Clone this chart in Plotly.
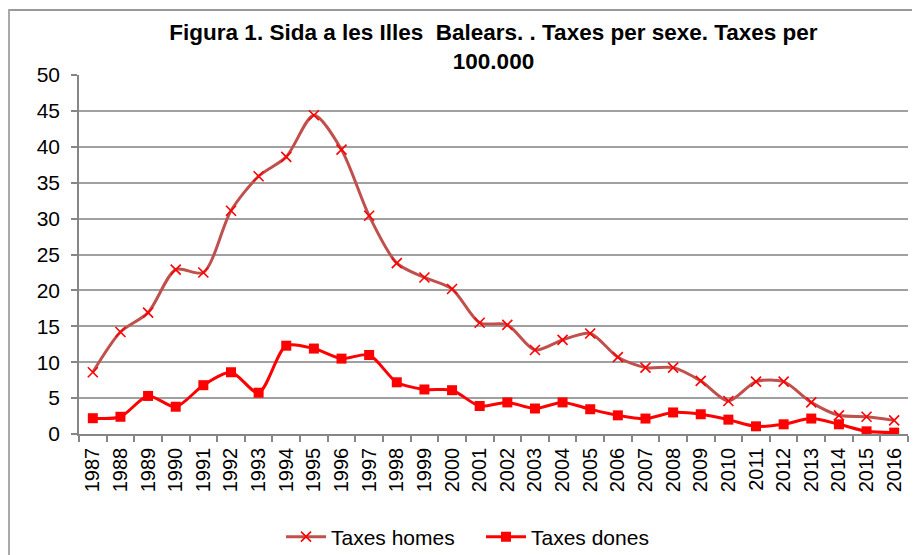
import plotly.graph_objects as go

years = [str(y) for y in range(1987, 2017)]
taxes_homes = [8.6, 14.2, 16.9, 22.9, 22.5, 31.1, 35.9, 38.6, 44.4, 39.6, 30.4, 23.8, 21.8, 20.2,
               15.5, 15.2, 11.7, 13.1, 14.0, 10.7, 9.25, 9.25, 7.4, 4.6, 7.3, 7.3, 4.4, 2.6, 2.4, 1.9]
taxes_dones = [2.2, 2.4, 5.3, 3.8, 6.8, 8.6, 5.75, 12.3, 11.9, 10.5, 11.0, 7.2, 6.2, 6.1,
               3.9, 4.4, 3.55, 4.4, 3.45, 2.6, 2.15, 3.0, 2.75, 2.0, 1.07, 1.35, 2.15, 1.35, 0.37, 0.19]
y_ticks = [0, 5, 10, 15, 20, 25, 30, 35, 40, 45, 50]

FONT = "Liberation Sans, Arial, sans-serif"

fig = go.Figure()
fig.add_trace(go.Scatter(
    x=years, y=taxes_homes, name="Taxes homes", mode="lines+markers",
    line=dict(color="#C0504D", width=3, shape="spline", smoothing=0.8),
    marker=dict(symbol="x-thin", size=10, color="#FF0000",
                line=dict(color="#FF0000", width=1.6)),
))
fig.add_trace(go.Scatter(
    x=years, y=taxes_dones, name="Taxes dones", mode="lines+markers",
    line=dict(color="#FF0000", width=3, shape="spline", smoothing=0.8),
    marker=dict(symbol="square", size=10, color="#FF0000"),
))

# page body has an 8px margin: work in figure pixels = screen pixels - 8
OFF = 8
W, H = 920 - OFF, 555 - OFF
L, R, T, B = 79 - OFF, 908 - OFF, 75 - OFF, 434 - OFF
pw, ph = R - L, B - T

def px_x(p):
    return (p - OFF - L) / pw

def px_y(p):
    return (B - (p - OFF)) / ph

# outer chart frame (only its left and top edges are visible)
fig.add_shape(type="line", xref="paper", yref="paper", layer="above",
              x0=px_x(9), x1=px_x(919), y0=px_y(10), y1=px_y(10),
              line=dict(color="#999999", width=2))
fig.add_shape(type="line", xref="paper", yref="paper", layer="above",
              x0=px_x(9), x1=px_x(9), y0=px_y(600), y1=px_y(9),
              line=dict(color="#A0A0A0", width=1.8))

fig.update_layout(
    width=W, height=H,
    margin=dict(l=L, r=W - R, t=T, b=H - B, pad=0, autoexpand=False),
    paper_bgcolor="white", plot_bgcolor="white",
    font=dict(family=FONT, color="#000000"),
    title=dict(
        text="<b>Figura 1. Sida a les Illes  Balears. . Taxes per sexe. Taxes per<br>100.000</b>",
        x=0.5, xref="paper", xanchor="center",
        y=1 - (39.5 - OFF) / H, yref="container", yanchor="middle",
        font=dict(family=FONT, size=22.5, color="#000000"),
    ),
    showlegend=True,
    legend=dict(
        orientation="h", x=px_x(481), xanchor="center",
        yref="container", y=1 - (537 - OFF) / H, yanchor="middle",
        font=dict(family=FONT, size=21, color="#000000"),
        itemwidth=40, tracegroupgap=0, entrywidth=145,
    ),
    xaxis=dict(
        type="category", tickangle=-90, tickson="boundaries", automargin=False,
        ticks="outside", ticklen=6, tickcolor="#868686", tickwidth=1.5,
        ticklabelstandoff=4,
        showline=True, linecolor="#868686", linewidth=1.5,
        showgrid=False, zeroline=False,
        tickfont=dict(family=FONT, size=20, color="#000000"),
        range=[-0.5, len(years) - 0.5],
    ),
    yaxis=dict(
        range=[0, 50], tickvals=y_ticks, automargin=False,
        ticks="outside", ticklen=6, tickcolor="#868686", tickwidth=1.5,
        ticklabelstandoff=7,
        showline=True, linecolor="#868686", linewidth=1.5,
        showgrid=True, gridcolor="#A0A0A0", gridwidth=1.5,
        zeroline=False,
        tickfont=dict(family=FONT, size=21, color="#000000"),
    ),
)

fig.write_html("out.html", config={"displayModeBar": False})
